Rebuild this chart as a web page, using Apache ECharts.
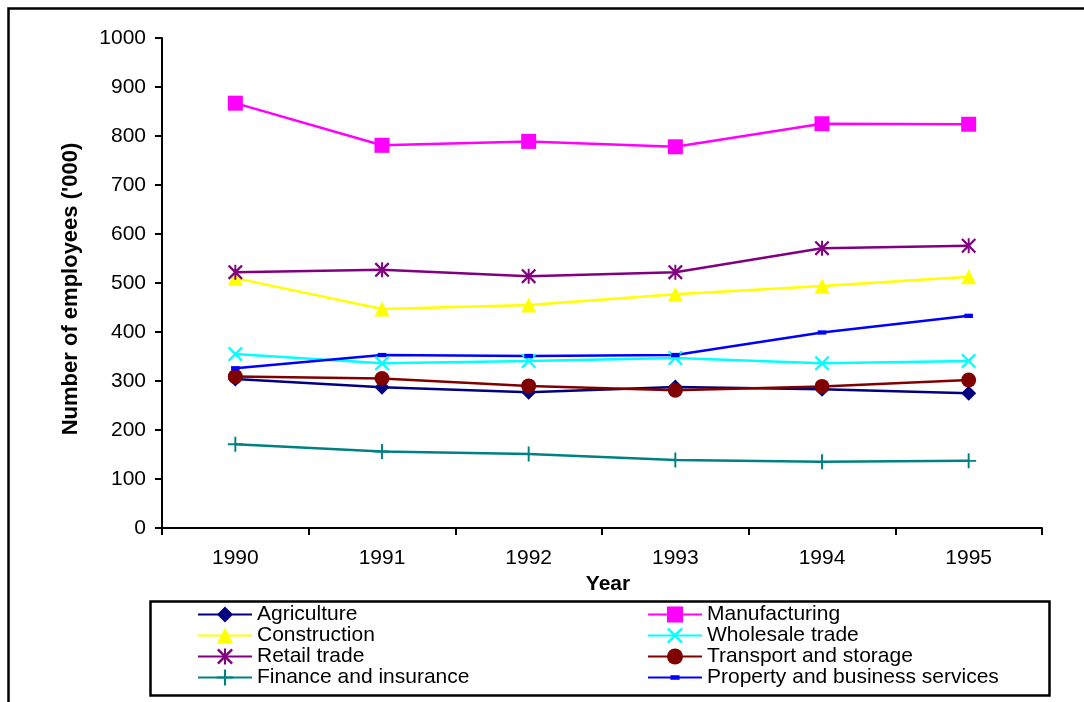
<!DOCTYPE html>
<html>
<head>
<meta charset="utf-8">
<title>Employees by industry, 1990-1995</title>
<script src="https://cdn.jsdelivr.net/npm/echarts@6/dist/echarts.min.js"></script>
<style>
  html, body { margin: 0; padding: 0; background: #fff; }
  #chart { width: 1084px; height: 702px; }
</style>
</head>
<body>
<div id="chart"></div>
<script>
// data ('000 employees)
const years = ['1990', '1991', '1992', '1993', '1994', '1995'];
const seriesNames = [
  'Agriculture', 'Manufacturing', 'Construction', 'Wholesale trade',
  'Retail trade', 'Transport and storage', 'Finance and insurance', 'Property and business services'
];
const agriculture = [304, 287, 277, 288, 283, 275];
const manufacturing = [867, 781, 789, 778, 825, 824];
const construction = [510, 447, 455, 477, 494, 513];
const wholesale = [355, 336, 341, 347, 336, 341];
const retail = [522, 527, 514, 522, 571, 576];
const transport = [309, 305, 290, 281, 289, 302];
const finance = [171, 156, 151, 139, 135, 137];
const property = [326, 353, 351, 353, 399, 433];
const yTicks = [0, 1000, 100]; // min, max, interval

const FONT = '"Liberation Sans", Arial, sans-serif';

// marker shapes drawn as filled outlines so they keep their look in the legend too
const SYM_X = 'path://M0,1.5L1.5,0L7,5.5L12.5,0L14,1.5L8.5,7L14,12.5L12.5,14L7,8.5L1.5,14L0,12.5L5.5,7Z';
const SYM_STAR = SYM_X.replace('Z', 'ZM6.1,0H7.9V14H6.1Z');
const SYM_PLUS = 'path://M6.1,0H7.9V6.1H14V7.9H7.9V14H6.1V7.9H0V6.1H6.1Z';
const SYM_DASH = 'path://M0,0M14,14M3,5H11V9H3Z';

const styles = [
  { data: agriculture, color: '#000080', symbol: 'diamond', size: 15 },
  { data: manufacturing, color: '#FF00FF', symbol: 'rect', size: 15 },
  { data: construction, color: '#FFFF00', symbol: 'triangle', size: 15 },
  { data: wholesale, color: '#00FFFF', symbol: SYM_X, size: 15 },
  { data: retail, color: '#800080', symbol: SYM_STAR, size: 15 },
  { data: transport, color: '#800000', symbol: 'circle', size: 15 },
  { data: finance, color: '#008080', symbol: SYM_PLUS, size: 15 },
  { data: property, color: '#0000FF', symbol: SYM_DASH, size: 15 },
];

const chart = echarts.init(document.getElementById('chart'), null, { renderer: 'canvas' });

const legendCommon = {
  orient: 'vertical',
  padding: 0,
  itemGap: 0,
  itemWidth: 54,
  itemHeight: 20,
  textStyle: { color: '#000', fontSize: 21, fontFamily: FONT },
  selectedMode: false,
};

chart.setOption({
  animation: false,
  backgroundColor: '#fff',
  textStyle: { fontFamily: FONT },
  grid: { left: 162, right: 42, top: 38, bottom: 174, containLabel: false },
  legend: [
    Object.assign({ left: 197, top: 604, data: [seriesNames[0], seriesNames[2], seriesNames[4], seriesNames[6]] }, legendCommon),
    Object.assign({ left: 647, top: 604, data: [seriesNames[1], seriesNames[3], seriesNames[5], seriesNames[7]] }, legendCommon),
  ],
  xAxis: {
    type: 'category',
    data: years,
    boundaryGap: true,
    name: 'Year',
    nameLocation: 'middle',
    nameGap: 44,
    nameTextStyle: { color: '#000', fontSize: 21, fontWeight: 'bold', fontFamily: FONT, padding: [0, 0, 0, 12] },
    axisLine: { lineStyle: { color: '#000', width: 2 } },
    axisTick: { show: true, inside: false, length: 7, lineStyle: { color: '#000', width: 2 } },
    axisLabel: { color: '#000', fontSize: 21, fontFamily: FONT, margin: 20 },
    splitLine: { show: false },
  },
  yAxis: {
    type: 'value',
    min: yTicks[0],
    max: yTicks[1],
    interval: yTicks[2],
    name: "Number of employees ('000)",
    nameLocation: 'middle',
    nameGap: 80,
    nameTextStyle: { color: '#000', fontSize: 22, fontWeight: 'bold', fontFamily: FONT, padding: [0, 12, 0, 0] },
    axisLine: { show: true, lineStyle: { color: '#000', width: 2 } },
    axisTick: { show: true, inside: false, length: 7, lineStyle: { color: '#000', width: 2 } },
    axisLabel: { color: '#000', fontSize: 21, fontFamily: FONT, margin: 16, formatter: (v) => String(v) },
    splitLine: { show: false },
  },
  graphic: [
    // outer chart-area frame (right and bottom edges fall outside the picture)
    { type: 'rect', left: 6, top: 6, shape: { width: 1200, height: 900 }, style: { fill: 'none', stroke: '#000', lineWidth: 2.5 }, silent: true, z: -1 },
    // legend frame
    { type: 'rect', left: 148, top: 599, shape: { width: 899, height: 94 }, style: { fill: 'none', stroke: '#000', lineWidth: 2.5 }, silent: true },
  ],
  series: styles.map((s, i) => ({
    name: seriesNames[i],
    type: 'line',
    data: s.data,
    symbol: s.symbol,
    symbolSize: s.size,
    showAllSymbol: true,
    lineStyle: { color: s.color, width: 2.5 },
    itemStyle: { color: s.color, borderWidth: 0 },
    emphasis: { disabled: true },
  })),
});
</script>
</body>
</html>
